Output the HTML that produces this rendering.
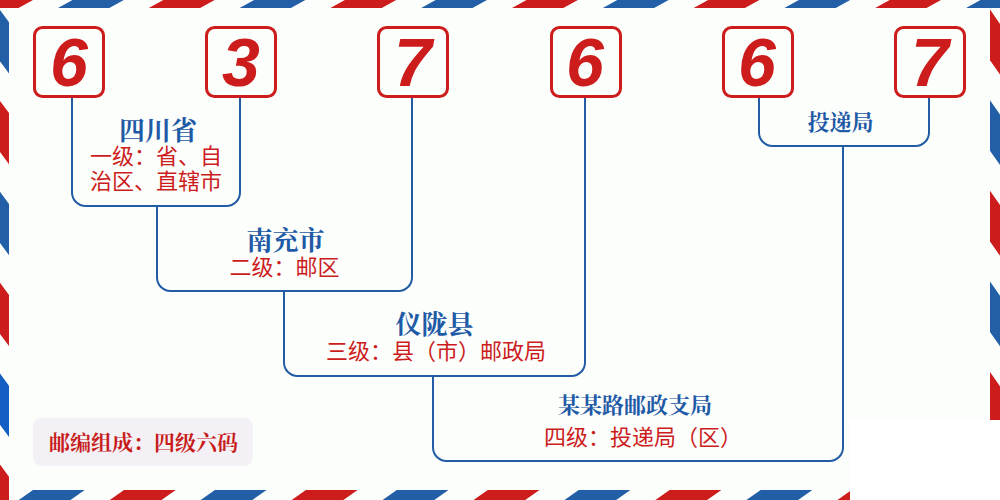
<!DOCTYPE html>
<html><head><meta charset="utf-8"><title>637667</title>
<style>
html,body{margin:0;padding:0;background:#fcfefc;font-family:"Liberation Sans",sans-serif;overflow:hidden}
svg{display:block}
</style></head>
<body>
<svg width="1000" height="500" viewBox="0 0 1000 500">
<rect width="1000" height="500" fill="#fcfefc"/>
<polygon fill="#cc1c1c" points="-32.8,8 -18.3,0 33,0 18.5,8"/>
<polygon fill="#235fa6" points="58,8 72.5,0 123.8,0 109.3,8"/>
<polygon fill="#cc1c1c" points="148.8,8 163.3,0 214.6,0 200.1,8"/>
<polygon fill="#235fa6" points="239.6,8 254.1,0 305.4,0 290.9,8"/>
<polygon fill="#cc1c1c" points="330.4,8 344.9,0 396.2,0 381.7,8"/>
<polygon fill="#235fa6" points="421.2,8 435.7,0 487,0 472.5,8"/>
<polygon fill="#cc1c1c" points="512,8 526.5,0 577.8,0 563.3,8"/>
<polygon fill="#235fa6" points="602.8,8 617.3,0 668.6,0 654.1,8"/>
<polygon fill="#cc1c1c" points="693.6,8 708.1,0 759.4,0 744.9,8"/>
<polygon fill="#235fa6" points="784.4,8 798.9,0 850.2,0 835.7,8"/>
<polygon fill="#cc1c1c" points="875.2,8 889.7,0 941,0 926.5,8"/>
<polygon fill="#235fa6" points="966,8 980.5,0 1031.8,0 1017.3,8"/>
<polygon fill="#cc1c1c" points="1056.8,8 1071.3,0 1122.6,0 1108.1,8"/>
<polygon fill="#cc1c1c" points="-58,490 -6.2,490 -20.4,500 -72.2,500"/>
<polygon fill="#235fa6" points="33,490 84.7,490 70.5,500 18.8,500"/>
<polygon fill="#cc1c1c" points="124,490 175.7,490 161.5,500 109.8,500"/>
<polygon fill="#235fa6" points="214.9,490 266.6,490 252.4,500 200.7,500"/>
<polygon fill="#cc1c1c" points="305.9,490 357.6,490 343.4,500 291.7,500"/>
<polygon fill="#235fa6" points="396.8,490 448.5,490 434.3,500 382.6,500"/>
<polygon fill="#cc1c1c" points="487.8,490 539.5,490 525.2,500 473.6,500"/>
<polygon fill="#235fa6" points="578.7,490 630.4,490 616.2,500 564.5,500"/>
<polygon fill="#cc1c1c" points="669.6,490 721.4,490 707.1,500 655.4,500"/>
<polygon fill="#235fa6" points="760.6,490 812.3,490 798.1,500 746.4,500"/>
<polygon fill="#cc1c1c" points="851.6,490 903.3,490 889.1,500 837.4,500"/>
<polygon fill="#235fa6" points="942.5,490 994.2,490 980,500 928.3,500"/>
<polygon fill="#cc1c1c" points="1033.5,490 1085.2,490 1071,500 1019.2,500"/>
<polygon fill="#cc1c1c" points="0,-80.9 9,-68.7 9,-17.5 0,-29.7"/>
<polygon fill="#235fa6" points="0,10 9,22.2 9,73.4 0,61.2"/>
<polygon fill="#cc1c1c" points="0,100.9 9,113.1 9,164.3 0,152.1"/>
<polygon fill="#235fa6" points="0,191.8 9,204 9,255.2 0,243"/>
<polygon fill="#cc1c1c" points="0,282.7 9,294.9 9,346.1 0,333.9"/>
<polygon fill="#155ec4" points="0,373.6 9,385.8 9,437 0,424.8"/>
<polygon fill="#cc1c1c" points="0,464.5 9,476.7 9,527.9 0,515.7"/>
<polygon fill="#235fa6" points="0,555.4 9,567.6 9,618.8 0,606.6"/>
<polygon fill="#235fa6" points="990,-81 1000,-66.7 1000,-16.1 990,-30.4"/>
<polygon fill="#cc1c1c" points="990,9.6 1000,23.9 1000,74.5 990,60.2"/>
<polygon fill="#235fa6" points="990,100.2 1000,114.5 1000,165.1 990,150.8"/>
<polygon fill="#cc1c1c" points="990,190.8 1000,205.1 1000,255.7 990,241.4"/>
<polygon fill="#235fa6" points="990,281.4 1000,295.7 1000,346.3 990,332"/>
<polygon fill="#cc1c1c" points="990,372 1000,386.3 1000,436.9 990,422.6"/>
<polygon fill="#235fa6" points="990,462.6 1000,476.9 1000,527.5 990,513.2"/>
<polygon fill="#cc1c1c" points="990,553.2 1000,567.5 1000,618.1 990,603.8"/>
<rect x="850" y="420" width="150" height="80" fill="#ffffff"/>
<rect x="33" y="417.8" width="220" height="47.9" rx="8.5" fill="#f3f1f5"/>
<path d="M72,97V192.5A13.5,13.5 0 0 0 85.5,206H226.5A13.5,13.5 0 0 0 240,192.5V97M157,206V277.5A13.5,13.5 0 0 0 170.5,291H398.5A13.5,13.5 0 0 0 412,277.5V97M284,291V362.5A13.5,13.5 0 0 0 297.5,376H571.5A13.5,13.5 0 0 0 585,362.5V97M433,376V447.5A13.5,13.5 0 0 0 446.5,461H829.5A13.5,13.5 0 0 0 843,447.5V146M759,97V132.5A13.5,13.5 0 0 0 772.5,146H915.5A13.5,13.5 0 0 0 929,132.5V97" fill="none" stroke="#215ca5" stroke-width="2"/>
<rect x="34.5" y="27.5" width="69" height="69" rx="8" fill="#fcfefc" stroke="#cc1c1c" stroke-width="3"/>
<rect x="206.5" y="27.5" width="69" height="69" rx="8" fill="#fcfefc" stroke="#cc1c1c" stroke-width="3"/>
<rect x="378.5" y="27.5" width="69" height="69" rx="8" fill="#fcfefc" stroke="#cc1c1c" stroke-width="3"/>
<rect x="551.5" y="27.5" width="69" height="69" rx="8" fill="#fcfefc" stroke="#cc1c1c" stroke-width="3"/>
<rect x="723.5" y="27.5" width="69" height="69" rx="8" fill="#fcfefc" stroke="#cc1c1c" stroke-width="3"/>
<rect x="895.5" y="27.5" width="69" height="69" rx="8" fill="#fcfefc" stroke="#cc1c1c" stroke-width="3"/>
<g font-family="'Liberation Sans', sans-serif" font-size="68" font-weight="bold" font-style="italic" fill="#cc1c1c" text-anchor="middle">
<text x="69" y="86">6</text>
<text x="241" y="86">3</text>
<text x="413" y="86">7</text>
<text x="585" y="86">6</text>
<text x="757" y="86">6</text>
<text x="930" y="86">7</text>
</g>
<text x="158" y="140" font-family="'Liberation Serif', 'Noto Serif CJK SC', serif" font-size="26" font-weight="bold" fill="#1f5aa6" text-anchor="middle">四川省</text>
<text x="156" y="164" font-family="'Liberation Sans', 'Noto Sans CJK SC', sans-serif" font-size="22" fill="#cc1c1c" text-anchor="middle">一级：省、自</text>
<text x="156" y="188.5" font-family="'Liberation Sans', 'Noto Sans CJK SC', sans-serif" font-size="22" fill="#cc1c1c" text-anchor="middle">治区、直辖市</text>
<text x="285.5" y="250" font-family="'Liberation Serif', 'Noto Serif CJK SC', serif" font-size="26" font-weight="bold" fill="#1f5aa6" text-anchor="middle">南充市</text>
<text x="284.5" y="274.5" font-family="'Liberation Sans', 'Noto Sans CJK SC', sans-serif" font-size="22" fill="#cc1c1c" text-anchor="middle">二级：邮区</text>
<text x="434.5" y="334" font-family="'Liberation Serif', 'Noto Serif CJK SC', serif" font-size="26" font-weight="bold" fill="#1f5aa6" text-anchor="middle">仪陇县</text>
<text x="436" y="358.5" font-family="'Liberation Sans', 'Noto Sans CJK SC', sans-serif" font-size="22" fill="#cc1c1c" text-anchor="middle">三级：县（市）邮政局</text>
<text x="635" y="412.5" font-family="'Liberation Serif', 'Noto Serif CJK SC', serif" font-size="22" font-weight="bold" fill="#1f5aa6" text-anchor="middle">某某路邮政支局</text>
<text x="643" y="444.5" font-family="'Liberation Sans', 'Noto Sans CJK SC', sans-serif" font-size="22" fill="#cc1c1c" text-anchor="middle">四级：投递局（区）</text>
<text x="840.5" y="129.5" font-family="'Liberation Serif', 'Noto Serif CJK SC', serif" font-size="22" font-weight="bold" fill="#1f5aa6" text-anchor="middle">投递局</text>
<text x="143.5" y="450" font-family="'Liberation Serif', 'Noto Serif CJK SC', serif" font-size="21" font-weight="bold" fill="#c81c1c" text-anchor="middle">邮编组成：四级六码</text>
</svg>
</body></html>
